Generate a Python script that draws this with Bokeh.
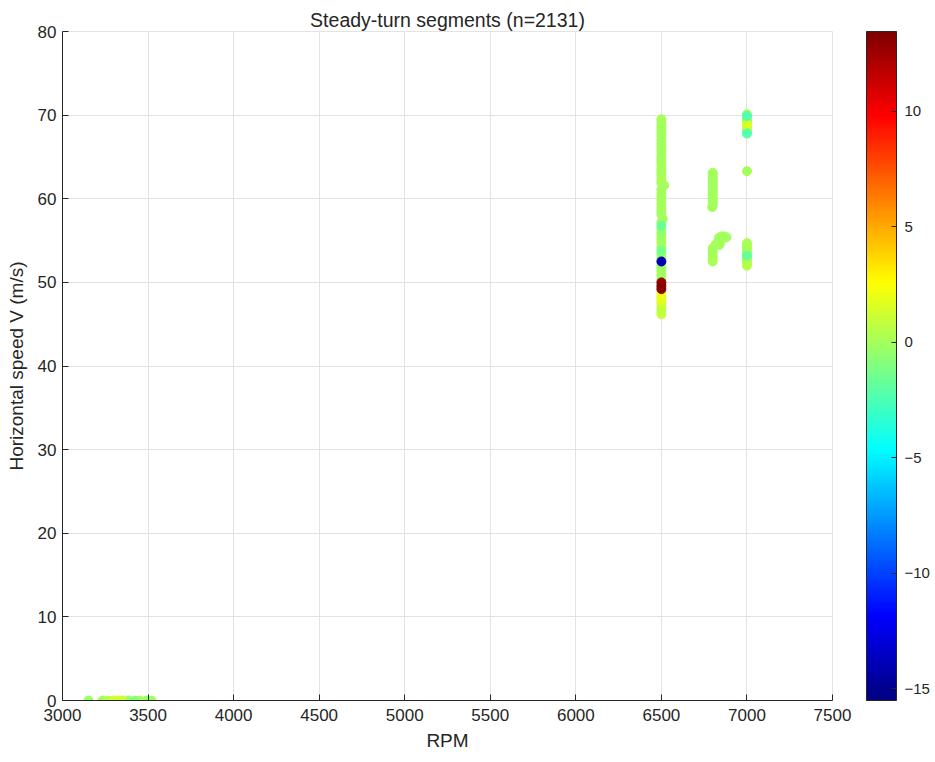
import numpy as np
from bokeh.plotting import figure
from bokeh.models import (ColumnDataSource, LinearColorMapper, ColorBar, FixedTicker,
                          Range1d)
from bokeh.transform import transform
from bokeh.embed import file_html
from bokeh.resources import INLINE

# ---- data ----
rpm_low = [3152, 3234, 3269, 3298, 3327, 3351, 3386, 3421, 3450, 3491, 3520]
v_low = [0, 0, 0, 0, 0, 0, 0, 0, 0, 0, 0]
c_low = [-0.3, -0.1, 0.6, 1.2, 1.4, 0.9, -0.4, -0.8, 0.2, -0.2, -0.3]

v_6500 = [46.2, 46.6, 47.0, 47.5, 47.9, 48.3, 48.8, 49.2, 49.6, 50.0, 50.4, 50.9, 51.3,
          51.7, 52.1, 52.5, 52.9, 53.4, 53.8, 54.2, 54.7, 55.1, 55.5, 55.9, 56.4, 56.8,
          57.2, 57.6, 58.1, 58.5, 58.9, 59.4, 59.8, 60.2, 60.6, 61.1, 61.6, 61.9, 62.3,
          62.8, 63.2, 63.6, 64.1, 64.5, 64.9, 65.3, 65.8, 66.2, 66.6, 67.0, 67.5, 67.9,
          68.3, 68.7, 69.1, 69.5]
rpm_6500 = [6500, 6500, 6500, 6500, 6500, 6500, 6500, 6500, 6500, 6500, 6500, 6500, 6500,
            6500, 6500, 6500, 6500, 6500, 6500, 6500, 6500, 6500, 6500, 6500, 6500, 6500,
            6500, 6508, 6500, 6500, 6500, 6500, 6500, 6500, 6500, 6500, 6516, 6500, 6500,
            6500, 6500, 6500, 6500, 6500, 6500, 6500, 6500, 6500, 6500, 6500, 6500, 6500,
            6500, 6500, 6500, 6500]
c_6500 = [0.9, 0.5, 0.7, 1.2, 1.9, 1.4, 2.3, 13.0, 13.2, 12.8, 0.1, -0.1, 0.0,
          0.0, -0.4, -14.0, -0.1, -0.6, -1.2, -0.1, 0.0, -0.1, 0.1, -0.5, 0.0, -1.6,
          0.0, 0.1, -0.1, 0.0, 0.1, 0.0, -0.1, 0.1, 0.0, 0.0, 0.1, -0.1, 0.2,
          0.0, -0.1, 0.1, 0.0, 0.0, 0.1, -0.1, 0.0, 0.1, -0.1, 0.0, 0.0, -0.1,
          0.1, 0.0, -0.1, 0.1]

rpm_6800 = [6797, 6800, 6800, 6800, 6800, 6800, 6800, 6800, 6800, 6800, 6800, 6800, 6800,
            6800, 6800, 6800, 6800, 6800, 6800, 6800,
            6820, 6835, 6850, 6865, 6880, 6845, 6840]
v_6800 = [59.0, 59.3, 59.6, 59.9, 60.2, 60.5, 60.8, 61.1, 61.4, 61.7, 62.0, 62.3, 62.6,
          62.9, 63.1, 52.5, 52.9, 53.3, 53.7, 54.1,
          54.6, 55.3, 55.5, 55.5, 55.4, 54.9, 54.5]
c_6800 = [0.0, -0.1, 0.1, 0.0, -0.1, 0.0, 0.1, -0.1, 0.0, 0.0, -0.1, 0.1, 0.0,
          -0.1, 0.0, 0.2, 0.0, 0.1, -0.1, 0.0,
          0.0, -0.1, 0.1, 0.0, -0.1, 0.0, 0.1]

rpm_7000 = [7000, 7000, 7000, 7000, 7000, 7000, 7000, 7000, 7000, 7000,
            7000,
            7000, 7000, 7000, 7000, 7000, 7000, 7000, 7000, 7000, 7000]
v_7000 = [67.8, 68.1, 68.4, 68.7, 69.0, 69.3, 69.6, 69.9, 70.1, 68.9,
          63.3,
          52.0, 52.3, 52.6, 52.9, 53.2, 53.5, 53.8, 54.1, 54.4, 54.7]
c_7000 = [-2.3, -0.2, 0.3, 1.2, 0.7, 0.0, -1.0, -2.3, 0.2, 1.5,
          0.0,
          0.5, 0.2, 0.0, -0.1, -1.8, 0.0, 0.1, -0.1, 0.0, 0.2]

x_ticks = [3000, 3500, 4000, 4500, 5000, 5500, 6000, 6500, 7000, 7500]
y_ticks = [0, 10, 20, 30, 40, 50, 60, 70, 80]
cbar_ticks = [-15, -10, -5, 0, 5, 10]
c_low_lim, c_high_lim = -15.5, 13.45

# ---- jet colormap ----
t = np.linspace(0, 1, 256)
def _ch(off):
    return np.clip(1.5 - np.abs(4 * t - off), 0, 1)
r, g, b = _ch(3), _ch(2), _ch(1)
jet = ["#%02x%02x%02x" % (int(round(rr * 255)), int(round(gg * 255)), int(round(bb * 255)))
       for rr, gg, bb in zip(r, g, b)]

rpm = rpm_low + rpm_6500 + rpm_6800 + rpm_7000
speed = v_low + v_6500 + v_6800 + v_7000
turn = c_low + c_6500 + c_6800 + c_7000
order = np.argsort(np.abs(np.array(turn)))
src = ColumnDataSource(dict(rpm=[rpm[i] for i in order],
                            speed=[speed[i] for i in order],
                            turn=[turn[i] for i in order]))

mapper = LinearColorMapper(palette=jet, low=c_low_lim, high=c_high_lim)

FONT = "Liberation Sans"
TXT = "#262626"
p = figure(output_backend="svg", toolbar_location=None,
           width=935, height=762,
           frame_width=770, frame_height=669,
           min_border_left=62, min_border_right=103, min_border_top=31, min_border_bottom=62,
           x_range=Range1d(3000, 7500), y_range=Range1d(0, 80),
           title="Steady-turn segments (n=2131)")
p.title.align = "center"
p.title.text_font = FONT
p.title.text_font_size = "19.5px"
p.title.text_font_style = "normal"
p.title.text_color = TXT
p.title.standoff = 2

p.scatter("rpm", "speed", source=src, size=9,
          fill_color=transform("turn", mapper), line_color=transform("turn", mapper))

for ax in (p.xaxis[0], p.yaxis[0]):
    ax.major_label_text_font = FONT
    ax.major_label_text_font_size = "17px"
    ax.major_label_text_color = TXT
    ax.axis_label_text_font = FONT
    ax.axis_label_text_font_size = "19px"
    ax.axis_label_text_font_style = "normal"
    ax.axis_label_text_color = TXT
    ax.axis_line_color = TXT
    ax.major_tick_line_color = TXT
    ax.major_tick_in = 6
    ax.major_tick_out = 0
    ax.minor_tick_line_color = None
p.xaxis.ticker = FixedTicker(ticks=x_ticks)
p.yaxis.ticker = FixedTicker(ticks=y_ticks)
p.xaxis.axis_label = "RPM"
p.yaxis.axis_label = "Horizontal speed V (m/s)"
p.xaxis.major_label_standoff = 8
p.yaxis.major_label_standoff = 6
p.xaxis.axis_label_standoff = 6
p.yaxis.axis_label_standoff = 8

p.grid.grid_line_color = "#e3e3e3"
p.outline_line_color = "#e3e3e3"
p.background_fill_color = "white"
p.border_fill_color = "white"

cb = ColorBar(color_mapper=mapper, ticker=FixedTicker(ticks=cbar_ticks),
              width=30, padding=0, margin=0, location=(34, 0),
              major_label_text_font=FONT, major_label_text_font_size="15px",
              major_label_text_color=TXT,
              major_tick_line_color=TXT, major_tick_in=5, major_tick_out=0,
              bar_line_color=TXT, label_standoff=8)
p.add_layout(cb, "right")

open("out.html", "w").write(file_html(p, INLINE))
